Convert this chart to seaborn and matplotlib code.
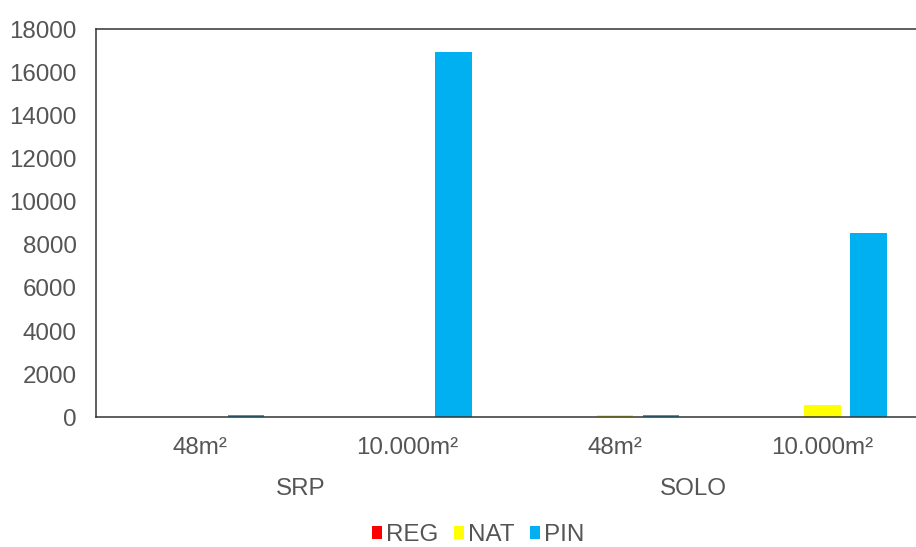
import matplotlib
matplotlib.use("Agg")
import matplotlib.pyplot as plt
import seaborn as sns
import pandas as pd
from matplotlib.patches import Patch

# Data
groups = ["SRP", "SRP", "SOLO", "SOLO"]
areas = ["48m²", "10.000m²", "48m²", "10.000m²"]
series = ["REG", "NAT", "PIN"]
reg = [0, 0, 0, 0]
nat = [0, 0, 110, 590]
pin = [130, 16950, 120, 8570]
colors = ["#FF0000", "#FFFF00", "#00B0F0"]
yticks = [0, 2000, 4000, 6000, 8000, 10000, 12000, 14000, 16000, 18000]

sns.set_theme(style="white")
plt.rcParams["font.family"] = ["Liberation Sans", "DejaVu Sans"]
text_color = "#555555"
fs = 17.4

keys = [f"{g} {a}" for g, a in zip(groups, areas)]
rows = []
for name, vals in zip(series, [reg, nat, pin]):
    for k, v in zip(keys, vals):
        rows.append({"cat": k, "serie": name, "valor": v})
df = pd.DataFrame(rows)

fig = plt.figure(figsize=(9.16, 5.47), dpi=100)
ax = fig.add_axes([0.1051, 0.2371, 0.906, 0.7093])

sns.barplot(data=df, x="cat", y="valor", hue="serie", order=keys,
            hue_order=series, palette=colors, width=0.666, gap=0.21,
            saturation=1, errorbar=None, legend=False, linewidth=0, ax=ax)

ax.set_ylim(0, 18000)
ax.set_xlim(-0.5, 3.5)
ax.set_yticks(yticks)
ax.set_yticklabels([str(t) for t in yticks])
ax.set_xticks(range(len(keys)))
ax.set_xticklabels(areas)
ax.set_xlabel("")
ax.set_ylabel("")
ax.tick_params(axis="both", length=0, labelsize=fs, labelcolor=text_color)
ax.tick_params(axis="y", pad=14)
ax.tick_params(axis="x", pad=14)

for side in ["left", "bottom", "top", "right"]:
    ax.spines[side].set_visible(True)
    ax.spines[side].set_color("#333333")
    ax.spines[side].set_linewidth(1.1)

# Outer category labels
outer = {"SRP": 0.487, "SOLO": 2.38}
for name, xpos in outer.items():
    ax.text(xpos, -0.185, name, transform=ax.get_xaxis_transform(),
            ha="center", va="center", fontsize=fs, color=text_color)

handles = [Patch(facecolor=c, edgecolor="none", label=s) for s, c in zip(series, colors)]
leg = fig.legend(handles=handles, loc="center", bbox_to_anchor=(478 / 916, 1 - 535 / 547),
                 ncol=3, frameon=False, fontsize=fs, handlelength=0.42,
                 handleheight=0.42, handletextpad=0.15, columnspacing=0.65,
                 borderpad=0.2)
for t in leg.get_texts():
    t.set_color(text_color)

fig.savefig("out.png", dpi=100)
